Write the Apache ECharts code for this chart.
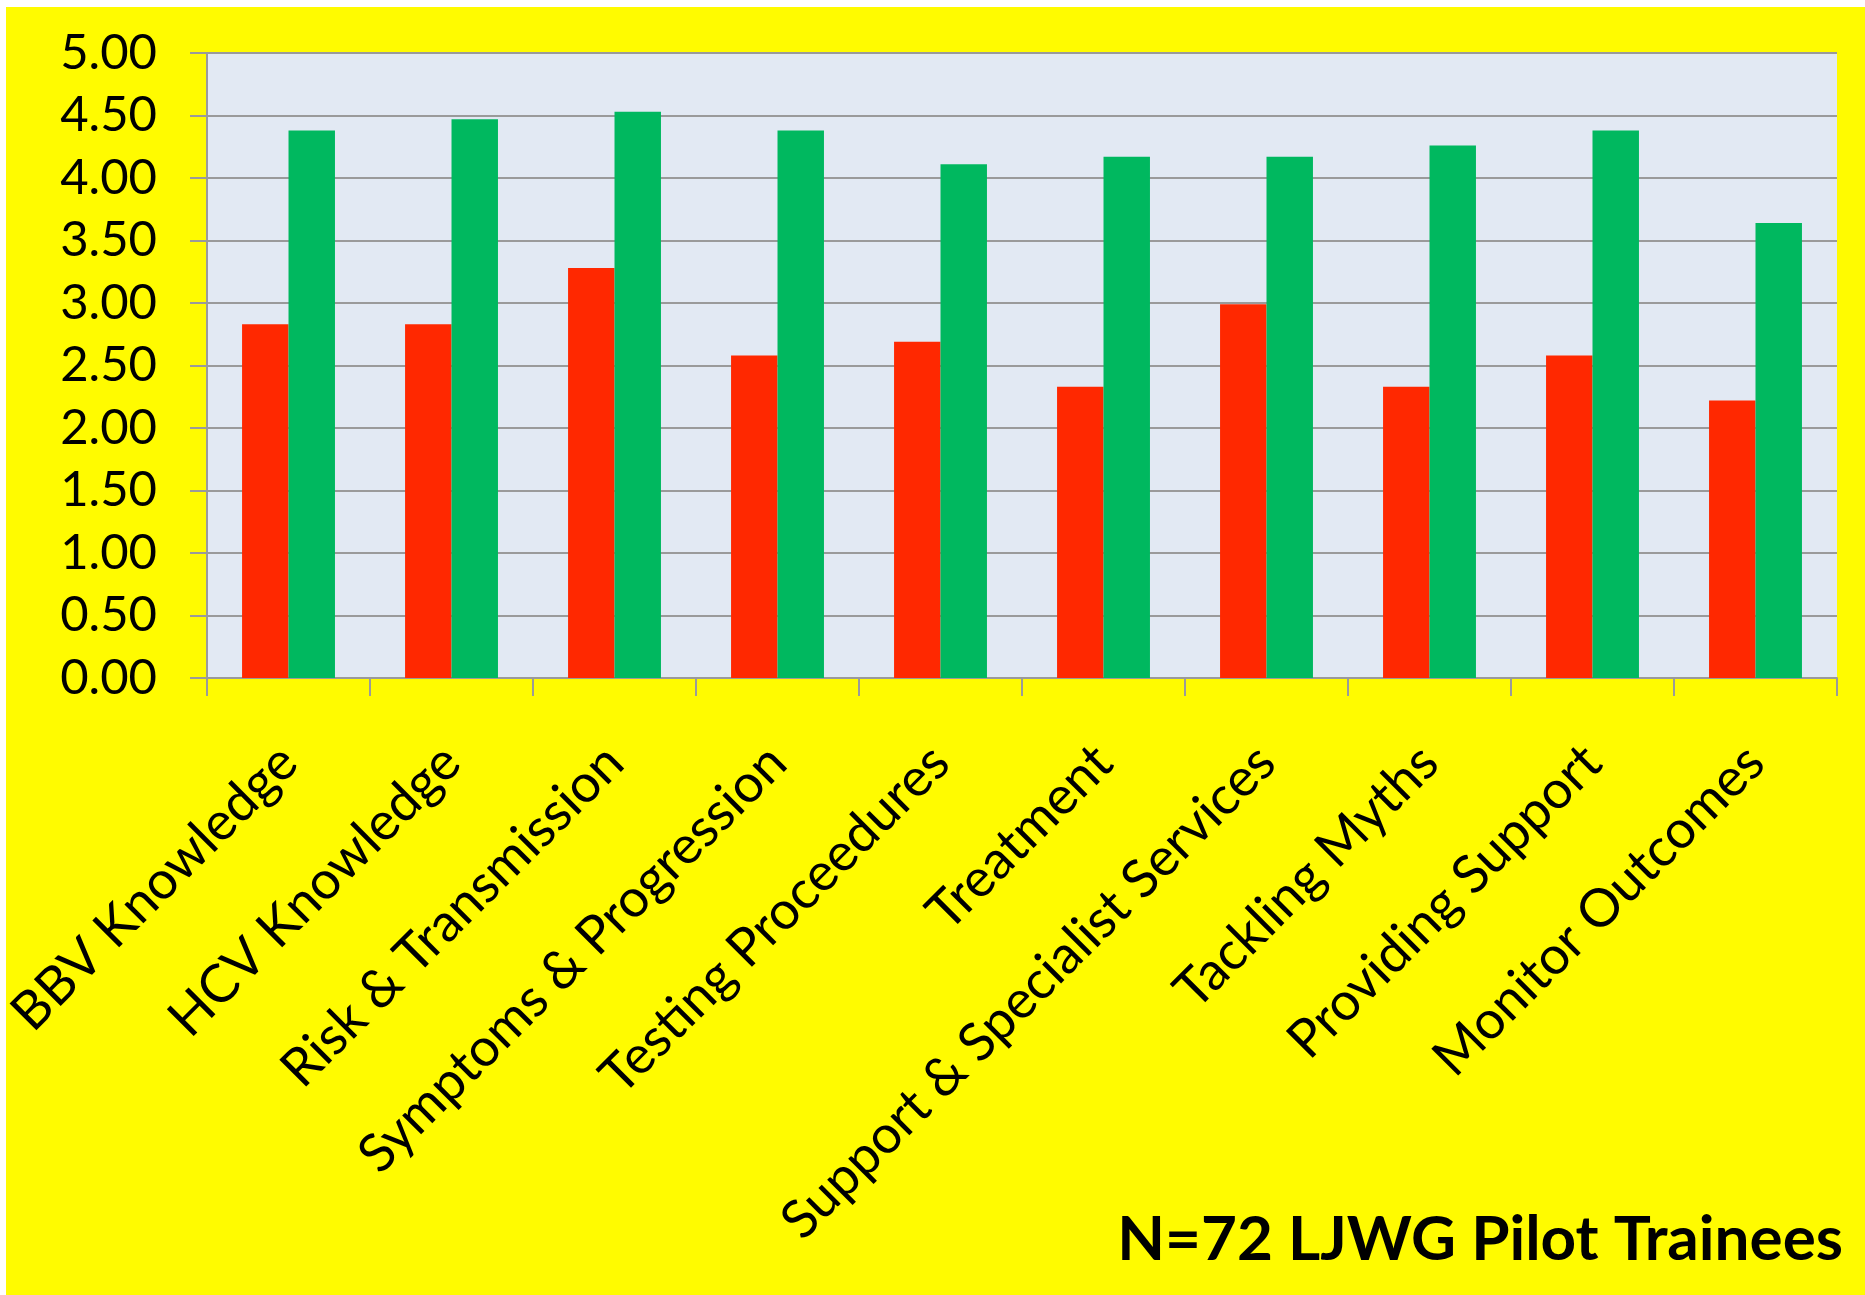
<!DOCTYPE html>
<html>
<head>
<meta charset="utf-8">
<script src="https://cdn.jsdelivr.net/npm/echarts@6/dist/echarts.min.js"></script>
<style>
  html, body { margin: 0; padding: 0; background: #fff; }
  #main { width: 1865px; height: 1295px; }
</style>
</head>
<body>
<div id="main"></div>
<script>
// survey scores per topic, before vs after training
const topics = [
    'BBV Knowledge', 'HCV Knowledge', 'Risk & Transmission', 'Symptoms & Progression',
    'Testing Proceedures', 'Treatment', 'Support & Specialist Services',
    'Tackling Myths', 'Providing Support', 'Monitor Outcomes'
];
const beforeScores = [2.83, 2.83, 3.28, 2.58, 2.69, 2.33, 2.99, 2.33, 2.58, 2.22];
const afterScores = [4.38, 4.47, 4.53, 4.38, 4.11, 4.17, 4.17, 4.26, 4.38, 3.64];
const footNote = 'N=72 LJWG Pilot Trainees';

const FONT = 'Lato';
let chart = echarts.init(document.getElementById('main'));

chart.setOption({
    backgroundColor: '#ffffff',
    animation: false,
    graphic: [
        {
            type: 'rect', z: -10, silent: true,
            shape: { x: 6, y: 7, width: 1859, height: 1288 },
            style: { fill: '#fffb00' }
        },
        {
            type: 'text', z: 10,
            right: 22, top: 1209,
            style: { text: footNote, font: 'bold 62px ' + FONT, fill: '#000' }
        }
    ],
    grid: {
        left: 207, top: 53, right: 28, bottom: 617,
        show: true, backgroundColor: '#e2e9f3', borderWidth: 0
    },
    xAxis: {
        type: 'category',
        data: topics,
        axisLine: { lineStyle: { color: '#9a9a9a', width: 2 } },
        axisTick: { show: true, length: 18, lineStyle: { color: '#9a9a9a', width: 2 } },
        axisLabel: {
            interval: 0, rotate: 45, margin: 76,
            fontFamily: FONT, fontSize: 53, color: '#000'
        }
    },
    yAxis: {
        type: 'value',
        min: 0, max: 5, interval: 0.5,
        axisLine: { show: true, lineStyle: { color: '#9a9a9a', width: 2 } },
        axisTick: { show: true, length: 17, lineStyle: { color: '#9a9a9a', width: 2 } },
        splitLine: { lineStyle: { color: '#9a9a9a', width: 2 } },
        axisLabel: {
            margin: 50, fontFamily: FONT, fontSize: 49, color: '#000',
            formatter: v => v.toFixed(2)
        }
    },
    series: [
        {
            type: 'bar', name: 'Before',
            data: beforeScores,
            barGap: '0%', barCategoryGap: '43%',
            itemStyle: { color: '#ff2800' }
        },
        {
            type: 'bar', name: 'After',
            data: afterScores,
            itemStyle: { color: '#00b85f' }
        }
    ]
});
</script>
</body>
</html>
